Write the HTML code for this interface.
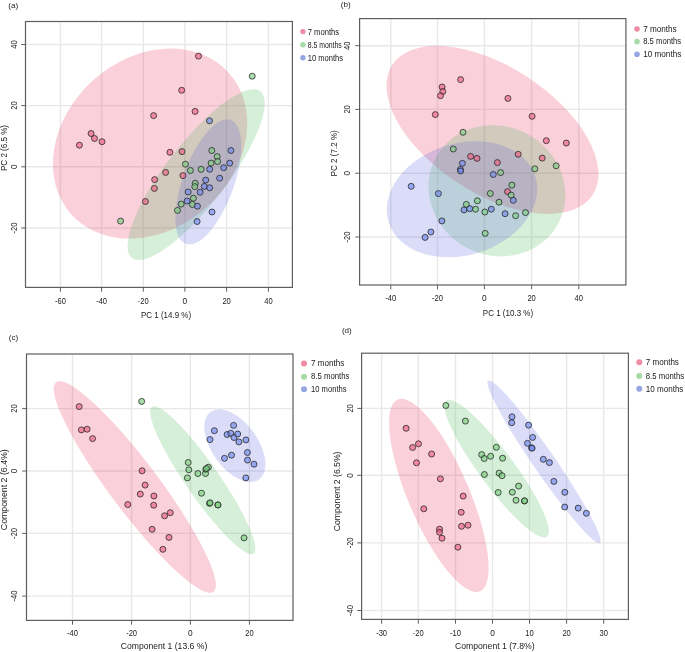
<!DOCTYPE html><html><head><meta charset="utf-8"><style>html,body{margin:0;padding:0;background:#fff;overflow:hidden}svg{display:block;will-change:transform}</style></head><body>
<svg width="685" height="652" viewBox="0 0 685 652" font-family='"Liberation Sans", sans-serif'>
<rect width="685" height="652" fill="#fff"/>
<g id="pa">
<line x1="60.4" y1="21.5" x2="60.4" y2="287.4" stroke="#e8e8e8" stroke-width="1.4"/>
<line x1="101.6" y1="21.5" x2="101.6" y2="287.4" stroke="#e8e8e8" stroke-width="1.4"/>
<line x1="143.3" y1="21.5" x2="143.3" y2="287.4" stroke="#e8e8e8" stroke-width="1.4"/>
<line x1="184.9" y1="21.5" x2="184.9" y2="287.4" stroke="#e8e8e8" stroke-width="1.4"/>
<line x1="226.6" y1="21.5" x2="226.6" y2="287.4" stroke="#e8e8e8" stroke-width="1.4"/>
<line x1="268.4" y1="21.5" x2="268.4" y2="287.4" stroke="#e8e8e8" stroke-width="1.4"/>
<line x1="25.5" y1="44.5" x2="292.4" y2="44.5" stroke="#e8e8e8" stroke-width="1.4"/>
<line x1="25.5" y1="105.6" x2="292.4" y2="105.6" stroke="#e8e8e8" stroke-width="1.4"/>
<line x1="25.5" y1="166.8" x2="292.4" y2="166.8" stroke="#e8e8e8" stroke-width="1.4"/>
<line x1="25.5" y1="228" x2="292.4" y2="228" stroke="#e8e8e8" stroke-width="1.4"/>
<g>
<ellipse cx="150.05" cy="143.58" rx="105.89" ry="85.18" transform="rotate(137.95 150.05 143.58)" fill="rgba(230,40,85,0.22)"/>
<ellipse cx="196.13" cy="174.67" rx="105.16" ry="30.54" transform="rotate(127.61 196.13 174.67)" fill="rgba(70,180,80,0.22)"/>
<ellipse cx="208.32" cy="181.92" rx="65.89" ry="25.69" transform="rotate(109.95 208.32 181.92)" fill="rgba(85,95,220,0.21)"/>
</g>
<circle cx="198.5" cy="56.1" r="3.0" fill="rgba(235,97,130,0.65)" stroke="#222" stroke-opacity="0.85" stroke-width="0.9"/>
<circle cx="181.7" cy="90.3" r="3.0" fill="rgba(235,97,130,0.65)" stroke="#222" stroke-opacity="0.85" stroke-width="0.9"/>
<circle cx="195.1" cy="111.4" r="3.0" fill="rgba(235,97,130,0.65)" stroke="#222" stroke-opacity="0.85" stroke-width="0.9"/>
<circle cx="153.6" cy="115.6" r="3.0" fill="rgba(235,97,130,0.65)" stroke="#222" stroke-opacity="0.85" stroke-width="0.9"/>
<circle cx="91.1" cy="133.5" r="3.0" fill="rgba(235,97,130,0.65)" stroke="#222" stroke-opacity="0.85" stroke-width="0.9"/>
<circle cx="94.5" cy="138.5" r="3.0" fill="rgba(235,97,130,0.65)" stroke="#222" stroke-opacity="0.85" stroke-width="0.9"/>
<circle cx="102" cy="141.7" r="3.0" fill="rgba(235,97,130,0.65)" stroke="#222" stroke-opacity="0.85" stroke-width="0.9"/>
<circle cx="79.4" cy="145.2" r="3.0" fill="rgba(235,97,130,0.65)" stroke="#222" stroke-opacity="0.85" stroke-width="0.9"/>
<circle cx="169.9" cy="152.3" r="3.0" fill="rgba(235,97,130,0.65)" stroke="#222" stroke-opacity="0.85" stroke-width="0.9"/>
<circle cx="182" cy="151.6" r="3.0" fill="rgba(235,97,130,0.65)" stroke="#222" stroke-opacity="0.85" stroke-width="0.9"/>
<circle cx="165.6" cy="172.4" r="3.0" fill="rgba(235,97,130,0.65)" stroke="#222" stroke-opacity="0.85" stroke-width="0.9"/>
<circle cx="182.9" cy="175.6" r="3.0" fill="rgba(235,97,130,0.65)" stroke="#222" stroke-opacity="0.85" stroke-width="0.9"/>
<circle cx="154.7" cy="179.6" r="3.0" fill="rgba(235,97,130,0.65)" stroke="#222" stroke-opacity="0.85" stroke-width="0.9"/>
<circle cx="154.4" cy="188.4" r="3.0" fill="rgba(235,97,130,0.65)" stroke="#222" stroke-opacity="0.85" stroke-width="0.9"/>
<circle cx="145.4" cy="201.5" r="3.0" fill="rgba(235,97,130,0.65)" stroke="#222" stroke-opacity="0.85" stroke-width="0.9"/>
<circle cx="252.2" cy="76.2" r="3.0" fill="rgba(125,205,128,0.65)" stroke="#222" stroke-opacity="0.85" stroke-width="0.9"/>
<circle cx="211.8" cy="150.5" r="3.0" fill="rgba(125,205,128,0.65)" stroke="#222" stroke-opacity="0.85" stroke-width="0.9"/>
<circle cx="217.2" cy="156.6" r="3.0" fill="rgba(125,205,128,0.65)" stroke="#222" stroke-opacity="0.85" stroke-width="0.9"/>
<circle cx="217.6" cy="161.5" r="3.0" fill="rgba(125,205,128,0.65)" stroke="#222" stroke-opacity="0.85" stroke-width="0.9"/>
<circle cx="211.1" cy="163.1" r="3.0" fill="rgba(125,205,128,0.65)" stroke="#222" stroke-opacity="0.85" stroke-width="0.9"/>
<circle cx="185.4" cy="164.2" r="3.0" fill="rgba(125,205,128,0.65)" stroke="#222" stroke-opacity="0.85" stroke-width="0.9"/>
<circle cx="190.4" cy="170.5" r="3.0" fill="rgba(125,205,128,0.65)" stroke="#222" stroke-opacity="0.85" stroke-width="0.9"/>
<circle cx="201.1" cy="169.3" r="3.0" fill="rgba(125,205,128,0.65)" stroke="#222" stroke-opacity="0.85" stroke-width="0.9"/>
<circle cx="195.2" cy="183.3" r="3.0" fill="rgba(125,205,128,0.65)" stroke="#222" stroke-opacity="0.85" stroke-width="0.9"/>
<circle cx="194.8" cy="186.6" r="3.0" fill="rgba(125,205,128,0.65)" stroke="#222" stroke-opacity="0.85" stroke-width="0.9"/>
<circle cx="193.4" cy="198.2" r="3.0" fill="rgba(125,205,128,0.65)" stroke="#222" stroke-opacity="0.85" stroke-width="0.9"/>
<circle cx="181.2" cy="204.1" r="3.0" fill="rgba(125,205,128,0.65)" stroke="#222" stroke-opacity="0.85" stroke-width="0.9"/>
<circle cx="192.4" cy="204.5" r="3.0" fill="rgba(125,205,128,0.65)" stroke="#222" stroke-opacity="0.85" stroke-width="0.9"/>
<circle cx="177.5" cy="210.4" r="3.0" fill="rgba(125,205,128,0.65)" stroke="#222" stroke-opacity="0.85" stroke-width="0.9"/>
<circle cx="120.6" cy="221.1" r="3.0" fill="rgba(125,205,128,0.65)" stroke="#222" stroke-opacity="0.85" stroke-width="0.9"/>
<circle cx="209.5" cy="120.8" r="3.0" fill="rgba(114,138,236,0.65)" stroke="#222" stroke-opacity="0.85" stroke-width="0.9"/>
<circle cx="230.9" cy="150.5" r="3.0" fill="rgba(114,138,236,0.65)" stroke="#222" stroke-opacity="0.85" stroke-width="0.9"/>
<circle cx="229.7" cy="163.1" r="3.0" fill="rgba(114,138,236,0.65)" stroke="#222" stroke-opacity="0.85" stroke-width="0.9"/>
<circle cx="223.7" cy="167.7" r="3.0" fill="rgba(114,138,236,0.65)" stroke="#222" stroke-opacity="0.85" stroke-width="0.9"/>
<circle cx="209.7" cy="169.3" r="3.0" fill="rgba(114,138,236,0.65)" stroke="#222" stroke-opacity="0.85" stroke-width="0.9"/>
<circle cx="219.7" cy="178.2" r="3.0" fill="rgba(114,138,236,0.65)" stroke="#222" stroke-opacity="0.85" stroke-width="0.9"/>
<circle cx="205.7" cy="180.1" r="3.0" fill="rgba(114,138,236,0.65)" stroke="#222" stroke-opacity="0.85" stroke-width="0.9"/>
<circle cx="204.3" cy="186.4" r="3.0" fill="rgba(114,138,236,0.65)" stroke="#222" stroke-opacity="0.85" stroke-width="0.9"/>
<circle cx="209.7" cy="187.8" r="3.0" fill="rgba(114,138,236,0.65)" stroke="#222" stroke-opacity="0.85" stroke-width="0.9"/>
<circle cx="188.2" cy="192" r="3.0" fill="rgba(114,138,236,0.65)" stroke="#222" stroke-opacity="0.85" stroke-width="0.9"/>
<circle cx="200.1" cy="192.2" r="3.0" fill="rgba(114,138,236,0.65)" stroke="#222" stroke-opacity="0.85" stroke-width="0.9"/>
<circle cx="187.1" cy="201" r="3.0" fill="rgba(114,138,236,0.65)" stroke="#222" stroke-opacity="0.85" stroke-width="0.9"/>
<circle cx="197.4" cy="206.2" r="3.0" fill="rgba(114,138,236,0.65)" stroke="#222" stroke-opacity="0.85" stroke-width="0.9"/>
<circle cx="212" cy="212" r="3.0" fill="rgba(114,138,236,0.65)" stroke="#222" stroke-opacity="0.85" stroke-width="0.9"/>
<circle cx="197.1" cy="221.5" r="3.0" fill="rgba(114,138,236,0.65)" stroke="#222" stroke-opacity="0.85" stroke-width="0.9"/>
<rect x="25.5" y="21.5" width="266.9" height="265.9" fill="none" stroke="#5e5e5e" stroke-width="1.2"/>
<line x1="60.4" y1="287.4" x2="60.4" y2="291.7" stroke="#5e5e5e" stroke-width="1"/>
<text x="60.4" y="303.8" font-size="8.6" text-anchor="middle" fill="#1a1a1a" textLength="10.94" lengthAdjust="spacingAndGlyphs">-60</text>
<line x1="101.6" y1="287.4" x2="101.6" y2="291.7" stroke="#5e5e5e" stroke-width="1"/>
<text x="101.6" y="303.8" font-size="8.6" text-anchor="middle" fill="#1a1a1a" textLength="10.94" lengthAdjust="spacingAndGlyphs">-40</text>
<line x1="143.3" y1="287.4" x2="143.3" y2="291.7" stroke="#5e5e5e" stroke-width="1"/>
<text x="143.3" y="303.8" font-size="8.6" text-anchor="middle" fill="#1a1a1a" textLength="10.94" lengthAdjust="spacingAndGlyphs">-20</text>
<line x1="184.9" y1="287.4" x2="184.9" y2="291.7" stroke="#5e5e5e" stroke-width="1"/>
<text x="184.9" y="303.8" font-size="8.6" text-anchor="middle" fill="#1a1a1a" textLength="4.64" lengthAdjust="spacingAndGlyphs">0</text>
<line x1="226.6" y1="287.4" x2="226.6" y2="291.7" stroke="#5e5e5e" stroke-width="1"/>
<text x="226.6" y="303.8" font-size="8.6" text-anchor="middle" fill="#1a1a1a" textLength="8.42" lengthAdjust="spacingAndGlyphs">20</text>
<line x1="268.4" y1="287.4" x2="268.4" y2="291.7" stroke="#5e5e5e" stroke-width="1"/>
<text x="268.4" y="303.8" font-size="8.6" text-anchor="middle" fill="#1a1a1a" textLength="8.42" lengthAdjust="spacingAndGlyphs">40</text>
<line x1="21.2" y1="44.5" x2="25.5" y2="44.5" stroke="#5e5e5e" stroke-width="1"/>
<text x="17.2" y="44.5" font-size="8.6" text-anchor="middle" fill="#1a1a1a" textLength="8.42" lengthAdjust="spacingAndGlyphs" transform="rotate(-90 17.2 44.5)" dy="0">40</text>
<line x1="21.2" y1="105.6" x2="25.5" y2="105.6" stroke="#5e5e5e" stroke-width="1"/>
<text x="17.2" y="105.6" font-size="8.6" text-anchor="middle" fill="#1a1a1a" textLength="8.42" lengthAdjust="spacingAndGlyphs" transform="rotate(-90 17.2 105.6)" dy="0">20</text>
<line x1="21.2" y1="166.8" x2="25.5" y2="166.8" stroke="#5e5e5e" stroke-width="1"/>
<text x="17.2" y="166.8" font-size="8.6" text-anchor="middle" fill="#1a1a1a" textLength="4.64" lengthAdjust="spacingAndGlyphs" transform="rotate(-90 17.2 166.8)" dy="0">0</text>
<line x1="21.2" y1="228" x2="25.5" y2="228" stroke="#5e5e5e" stroke-width="1"/>
<text x="17.2" y="228" font-size="8.6" text-anchor="middle" fill="#1a1a1a" textLength="10.94" lengthAdjust="spacingAndGlyphs" transform="rotate(-90 17.2 228)" dy="0">-20</text>
<text x="166" y="317.5" font-size="9.3" text-anchor="middle" fill="#1a1a1a" textLength="50.1" lengthAdjust="spacingAndGlyphs">PC 1 (14.9 %)</text>
<text x="7" y="148" font-size="9.3" text-anchor="middle" fill="#1a1a1a" textLength="46" lengthAdjust="spacingAndGlyphs" transform="rotate(-90 7 148)">PC 2 (6.5 %)</text>
<text x="8.2" y="8" font-size="8.1" fill="#1a1a1a">(a)</text>
<circle cx="302.9" cy="31.6" r="2.7" fill="#F08CA3"/>
<text x="307.7" y="34.7" font-size="8.8" fill="#1a1a1a" textLength="31.5" lengthAdjust="spacingAndGlyphs">7 months</text>
<circle cx="302.9" cy="44.8" r="2.7" fill="#A6DAA6"/>
<text x="307.7" y="47.6" font-size="8.8" fill="#1a1a1a" textLength="34.1" lengthAdjust="spacingAndGlyphs">8.5 months</text>
<circle cx="302.9" cy="57.7" r="2.7" fill="#97A6E3"/>
<text x="307.7" y="60.6" font-size="8.8" fill="#1a1a1a" textLength="35.3" lengthAdjust="spacingAndGlyphs">10 months</text>
</g>
<g id="pb">
<line x1="390.8" y1="18.6" x2="390.8" y2="285" stroke="#e8e8e8" stroke-width="1.4"/>
<line x1="437.5" y1="18.6" x2="437.5" y2="285" stroke="#e8e8e8" stroke-width="1.4"/>
<line x1="484.4" y1="18.6" x2="484.4" y2="285" stroke="#e8e8e8" stroke-width="1.4"/>
<line x1="531.6" y1="18.6" x2="531.6" y2="285" stroke="#e8e8e8" stroke-width="1.4"/>
<line x1="578.8" y1="18.6" x2="578.8" y2="285" stroke="#e8e8e8" stroke-width="1.4"/>
<line x1="359.6" y1="45.7" x2="625.9" y2="45.7" stroke="#e8e8e8" stroke-width="1.4"/>
<line x1="359.6" y1="109.4" x2="625.9" y2="109.4" stroke="#e8e8e8" stroke-width="1.4"/>
<line x1="359.6" y1="173.2" x2="625.9" y2="173.2" stroke="#e8e8e8" stroke-width="1.4"/>
<line x1="359.6" y1="237" x2="625.9" y2="237" stroke="#e8e8e8" stroke-width="1.4"/>
<g>
<ellipse cx="492.45" cy="129.88" rx="119.48" ry="63.39" transform="rotate(-147.01 492.45 129.88)" fill="rgba(230,40,85,0.22)"/>
<ellipse cx="496.91" cy="190.78" rx="69.57" ry="64.39" transform="rotate(-151.28 496.91 190.78)" fill="rgba(70,180,80,0.22)"/>
<ellipse cx="461.97" cy="199.3" rx="76.8" ry="55.86" transform="rotate(162.72 461.97 199.3)" fill="rgba(85,95,220,0.21)"/>
</g>
<circle cx="460.6" cy="79.6" r="3.0" fill="rgba(235,97,130,0.65)" stroke="#222" stroke-opacity="0.85" stroke-width="0.9"/>
<circle cx="442.1" cy="87" r="3.0" fill="rgba(235,97,130,0.65)" stroke="#222" stroke-opacity="0.85" stroke-width="0.9"/>
<circle cx="442.8" cy="91.5" r="3.0" fill="rgba(235,97,130,0.65)" stroke="#222" stroke-opacity="0.85" stroke-width="0.9"/>
<circle cx="440.5" cy="95.7" r="3.0" fill="rgba(235,97,130,0.65)" stroke="#222" stroke-opacity="0.85" stroke-width="0.9"/>
<circle cx="507.9" cy="98.4" r="3.0" fill="rgba(235,97,130,0.65)" stroke="#222" stroke-opacity="0.85" stroke-width="0.9"/>
<circle cx="435.3" cy="114.6" r="3.0" fill="rgba(235,97,130,0.65)" stroke="#222" stroke-opacity="0.85" stroke-width="0.9"/>
<circle cx="532.1" cy="116.3" r="3.0" fill="rgba(235,97,130,0.65)" stroke="#222" stroke-opacity="0.85" stroke-width="0.9"/>
<circle cx="546.3" cy="140.7" r="3.0" fill="rgba(235,97,130,0.65)" stroke="#222" stroke-opacity="0.85" stroke-width="0.9"/>
<circle cx="566.3" cy="143" r="3.0" fill="rgba(235,97,130,0.65)" stroke="#222" stroke-opacity="0.85" stroke-width="0.9"/>
<circle cx="470.6" cy="156.4" r="3.0" fill="rgba(235,97,130,0.65)" stroke="#222" stroke-opacity="0.85" stroke-width="0.9"/>
<circle cx="477" cy="158.4" r="3.0" fill="rgba(235,97,130,0.65)" stroke="#222" stroke-opacity="0.85" stroke-width="0.9"/>
<circle cx="518.2" cy="154.3" r="3.0" fill="rgba(235,97,130,0.65)" stroke="#222" stroke-opacity="0.85" stroke-width="0.9"/>
<circle cx="542.2" cy="158.1" r="3.0" fill="rgba(235,97,130,0.65)" stroke="#222" stroke-opacity="0.85" stroke-width="0.9"/>
<circle cx="497.4" cy="162.6" r="3.0" fill="rgba(235,97,130,0.65)" stroke="#222" stroke-opacity="0.85" stroke-width="0.9"/>
<circle cx="507.5" cy="191.6" r="3.0" fill="rgba(235,97,130,0.65)" stroke="#222" stroke-opacity="0.85" stroke-width="0.9"/>
<circle cx="463" cy="132.3" r="3.0" fill="rgba(125,205,128,0.65)" stroke="#222" stroke-opacity="0.85" stroke-width="0.9"/>
<circle cx="453.3" cy="149" r="3.0" fill="rgba(125,205,128,0.65)" stroke="#222" stroke-opacity="0.85" stroke-width="0.9"/>
<circle cx="556.2" cy="165.8" r="3.0" fill="rgba(125,205,128,0.65)" stroke="#222" stroke-opacity="0.85" stroke-width="0.9"/>
<circle cx="534.8" cy="168.8" r="3.0" fill="rgba(125,205,128,0.65)" stroke="#222" stroke-opacity="0.85" stroke-width="0.9"/>
<circle cx="500.6" cy="172.6" r="3.0" fill="rgba(125,205,128,0.65)" stroke="#222" stroke-opacity="0.85" stroke-width="0.9"/>
<circle cx="511.9" cy="185.1" r="3.0" fill="rgba(125,205,128,0.65)" stroke="#222" stroke-opacity="0.85" stroke-width="0.9"/>
<circle cx="490.3" cy="193.5" r="3.0" fill="rgba(125,205,128,0.65)" stroke="#222" stroke-opacity="0.85" stroke-width="0.9"/>
<circle cx="511.1" cy="195.1" r="3.0" fill="rgba(125,205,128,0.65)" stroke="#222" stroke-opacity="0.85" stroke-width="0.9"/>
<circle cx="477.4" cy="200.8" r="3.0" fill="rgba(125,205,128,0.65)" stroke="#222" stroke-opacity="0.85" stroke-width="0.9"/>
<circle cx="499" cy="202.2" r="3.0" fill="rgba(125,205,128,0.65)" stroke="#222" stroke-opacity="0.85" stroke-width="0.9"/>
<circle cx="466.3" cy="204.4" r="3.0" fill="rgba(125,205,128,0.65)" stroke="#222" stroke-opacity="0.85" stroke-width="0.9"/>
<circle cx="475.5" cy="209.2" r="3.0" fill="rgba(125,205,128,0.65)" stroke="#222" stroke-opacity="0.85" stroke-width="0.9"/>
<circle cx="484.8" cy="212" r="3.0" fill="rgba(125,205,128,0.65)" stroke="#222" stroke-opacity="0.85" stroke-width="0.9"/>
<circle cx="515.6" cy="215.7" r="3.0" fill="rgba(125,205,128,0.65)" stroke="#222" stroke-opacity="0.85" stroke-width="0.9"/>
<circle cx="525.5" cy="212.6" r="3.0" fill="rgba(125,205,128,0.65)" stroke="#222" stroke-opacity="0.85" stroke-width="0.9"/>
<circle cx="485.2" cy="233.4" r="3.0" fill="rgba(125,205,128,0.65)" stroke="#222" stroke-opacity="0.85" stroke-width="0.9"/>
<circle cx="462.4" cy="163.3" r="3.0" fill="rgba(114,138,236,0.65)" stroke="#222" stroke-opacity="0.85" stroke-width="0.9"/>
<circle cx="460.4" cy="169.4" r="3.0" fill="rgba(114,138,236,0.65)" stroke="#222" stroke-opacity="0.85" stroke-width="0.9"/>
<circle cx="460.6" cy="171" r="3.0" fill="rgba(114,138,236,0.65)" stroke="#222" stroke-opacity="0.85" stroke-width="0.9"/>
<circle cx="493.3" cy="174.5" r="3.0" fill="rgba(114,138,236,0.65)" stroke="#222" stroke-opacity="0.85" stroke-width="0.9"/>
<circle cx="411.2" cy="186.3" r="3.0" fill="rgba(114,138,236,0.65)" stroke="#222" stroke-opacity="0.85" stroke-width="0.9"/>
<circle cx="438.4" cy="193.6" r="3.0" fill="rgba(114,138,236,0.65)" stroke="#222" stroke-opacity="0.85" stroke-width="0.9"/>
<circle cx="513.3" cy="200.3" r="3.0" fill="rgba(114,138,236,0.65)" stroke="#222" stroke-opacity="0.85" stroke-width="0.9"/>
<circle cx="464" cy="209.9" r="3.0" fill="rgba(114,138,236,0.65)" stroke="#222" stroke-opacity="0.85" stroke-width="0.9"/>
<circle cx="469.7" cy="208.7" r="3.0" fill="rgba(114,138,236,0.65)" stroke="#222" stroke-opacity="0.85" stroke-width="0.9"/>
<circle cx="491.3" cy="209.2" r="3.0" fill="rgba(114,138,236,0.65)" stroke="#222" stroke-opacity="0.85" stroke-width="0.9"/>
<circle cx="505.1" cy="213.7" r="3.0" fill="rgba(114,138,236,0.65)" stroke="#222" stroke-opacity="0.85" stroke-width="0.9"/>
<circle cx="441.9" cy="220.9" r="3.0" fill="rgba(114,138,236,0.65)" stroke="#222" stroke-opacity="0.85" stroke-width="0.9"/>
<circle cx="430.9" cy="232" r="3.0" fill="rgba(114,138,236,0.65)" stroke="#222" stroke-opacity="0.85" stroke-width="0.9"/>
<circle cx="425.1" cy="237.4" r="3.0" fill="rgba(114,138,236,0.65)" stroke="#222" stroke-opacity="0.85" stroke-width="0.9"/>
<rect x="359.6" y="18.6" width="266.3" height="266.4" fill="none" stroke="#5e5e5e" stroke-width="1.2"/>
<line x1="390.8" y1="285" x2="390.8" y2="289.3" stroke="#5e5e5e" stroke-width="1"/>
<text x="390.8" y="300.8" font-size="8.6" text-anchor="middle" fill="#1a1a1a" textLength="10.94" lengthAdjust="spacingAndGlyphs">-40</text>
<line x1="437.5" y1="285" x2="437.5" y2="289.3" stroke="#5e5e5e" stroke-width="1"/>
<text x="437.5" y="300.8" font-size="8.6" text-anchor="middle" fill="#1a1a1a" textLength="10.94" lengthAdjust="spacingAndGlyphs">-20</text>
<line x1="484.4" y1="285" x2="484.4" y2="289.3" stroke="#5e5e5e" stroke-width="1"/>
<text x="484.4" y="300.8" font-size="8.6" text-anchor="middle" fill="#1a1a1a" textLength="4.64" lengthAdjust="spacingAndGlyphs">0</text>
<line x1="531.6" y1="285" x2="531.6" y2="289.3" stroke="#5e5e5e" stroke-width="1"/>
<text x="531.6" y="300.8" font-size="8.6" text-anchor="middle" fill="#1a1a1a" textLength="8.42" lengthAdjust="spacingAndGlyphs">20</text>
<line x1="578.8" y1="285" x2="578.8" y2="289.3" stroke="#5e5e5e" stroke-width="1"/>
<text x="578.8" y="300.8" font-size="8.6" text-anchor="middle" fill="#1a1a1a" textLength="8.42" lengthAdjust="spacingAndGlyphs">40</text>
<line x1="355.3" y1="45.7" x2="359.6" y2="45.7" stroke="#5e5e5e" stroke-width="1"/>
<text x="350.2" y="45.7" font-size="8.6" text-anchor="middle" fill="#1a1a1a" textLength="8.42" lengthAdjust="spacingAndGlyphs" transform="rotate(-90 350.2 45.7)" dy="0">40</text>
<line x1="355.3" y1="109.4" x2="359.6" y2="109.4" stroke="#5e5e5e" stroke-width="1"/>
<text x="350.2" y="109.4" font-size="8.6" text-anchor="middle" fill="#1a1a1a" textLength="8.42" lengthAdjust="spacingAndGlyphs" transform="rotate(-90 350.2 109.4)" dy="0">20</text>
<line x1="355.3" y1="173.2" x2="359.6" y2="173.2" stroke="#5e5e5e" stroke-width="1"/>
<text x="350.2" y="173.2" font-size="8.6" text-anchor="middle" fill="#1a1a1a" textLength="4.64" lengthAdjust="spacingAndGlyphs" transform="rotate(-90 350.2 173.2)" dy="0">0</text>
<line x1="355.3" y1="237" x2="359.6" y2="237" stroke="#5e5e5e" stroke-width="1"/>
<text x="350.2" y="237" font-size="8.6" text-anchor="middle" fill="#1a1a1a" textLength="10.94" lengthAdjust="spacingAndGlyphs" transform="rotate(-90 350.2 237)" dy="0">-20</text>
<text x="508" y="316.4" font-size="9.3" text-anchor="middle" fill="#1a1a1a" textLength="50.3" lengthAdjust="spacingAndGlyphs">PC 1 (10.3 %)</text>
<text x="337.3" y="153.3" font-size="9.3" text-anchor="middle" fill="#1a1a1a" textLength="46.2" lengthAdjust="spacingAndGlyphs" transform="rotate(-90 337.3 153.3)">PC 2 (7.2 %)</text>
<text x="340.8" y="7.1" font-size="8.1" fill="#1a1a1a">(b)</text>
<circle cx="637" cy="29" r="2.8" fill="#F08CA3"/>
<text x="643.2" y="32.1" font-size="8.8" fill="#1a1a1a" textLength="33.5" lengthAdjust="spacingAndGlyphs">7 months</text>
<circle cx="637" cy="41.6" r="2.8" fill="#A6DAA6"/>
<text x="643.2" y="44.4" font-size="8.8" fill="#1a1a1a" textLength="38" lengthAdjust="spacingAndGlyphs">8.5 months</text>
<circle cx="637" cy="54.2" r="2.8" fill="#97A6E3"/>
<text x="643.2" y="56.9" font-size="8.8" fill="#1a1a1a" textLength="38.1" lengthAdjust="spacingAndGlyphs">10 months</text>
</g>
<g id="pc">
<line x1="72.5" y1="354" x2="72.5" y2="620.4" stroke="#e8e8e8" stroke-width="1.4"/>
<line x1="131.6" y1="354" x2="131.6" y2="620.4" stroke="#e8e8e8" stroke-width="1.4"/>
<line x1="190.4" y1="354" x2="190.4" y2="620.4" stroke="#e8e8e8" stroke-width="1.4"/>
<line x1="249.4" y1="354" x2="249.4" y2="620.4" stroke="#e8e8e8" stroke-width="1.4"/>
<line x1="26.5" y1="408.6" x2="293" y2="408.6" stroke="#e8e8e8" stroke-width="1.4"/>
<line x1="26.5" y1="471" x2="293" y2="471" stroke="#e8e8e8" stroke-width="1.4"/>
<line x1="26.5" y1="533.4" x2="293" y2="533.4" stroke="#e8e8e8" stroke-width="1.4"/>
<line x1="26.5" y1="596.1" x2="293" y2="596.1" stroke="#e8e8e8" stroke-width="1.4"/>
<g>
<ellipse cx="134.81" cy="486.97" rx="131.02" ry="24.49" transform="rotate(53.09 134.81 486.97)" fill="rgba(230,40,85,0.22)"/>
<ellipse cx="202.74" cy="480.27" rx="89.27" ry="16.66" transform="rotate(55.3 202.74 480.27)" fill="rgba(70,180,80,0.22)"/>
<ellipse cx="234.87" cy="445.67" rx="41.57" ry="22.98" transform="rotate(54.4 234.87 445.67)" fill="rgba(85,95,220,0.21)"/>
</g>
<circle cx="79.2" cy="406.6" r="3.0" fill="rgba(235,97,130,0.65)" stroke="#222" stroke-opacity="0.85" stroke-width="0.9"/>
<circle cx="81.4" cy="429.9" r="3.0" fill="rgba(235,97,130,0.65)" stroke="#222" stroke-opacity="0.85" stroke-width="0.9"/>
<circle cx="87.1" cy="429.2" r="3.0" fill="rgba(235,97,130,0.65)" stroke="#222" stroke-opacity="0.85" stroke-width="0.9"/>
<circle cx="92.6" cy="438.6" r="3.0" fill="rgba(235,97,130,0.65)" stroke="#222" stroke-opacity="0.85" stroke-width="0.9"/>
<circle cx="142.1" cy="470.8" r="3.0" fill="rgba(235,97,130,0.65)" stroke="#222" stroke-opacity="0.85" stroke-width="0.9"/>
<circle cx="145.1" cy="485.1" r="3.0" fill="rgba(235,97,130,0.65)" stroke="#222" stroke-opacity="0.85" stroke-width="0.9"/>
<circle cx="140.3" cy="494.1" r="3.0" fill="rgba(235,97,130,0.65)" stroke="#222" stroke-opacity="0.85" stroke-width="0.9"/>
<circle cx="153.9" cy="496" r="3.0" fill="rgba(235,97,130,0.65)" stroke="#222" stroke-opacity="0.85" stroke-width="0.9"/>
<circle cx="127.8" cy="504.6" r="3.0" fill="rgba(235,97,130,0.65)" stroke="#222" stroke-opacity="0.85" stroke-width="0.9"/>
<circle cx="153.7" cy="505.2" r="3.0" fill="rgba(235,97,130,0.65)" stroke="#222" stroke-opacity="0.85" stroke-width="0.9"/>
<circle cx="170.3" cy="512.7" r="3.0" fill="rgba(235,97,130,0.65)" stroke="#222" stroke-opacity="0.85" stroke-width="0.9"/>
<circle cx="164.6" cy="515.8" r="3.0" fill="rgba(235,97,130,0.65)" stroke="#222" stroke-opacity="0.85" stroke-width="0.9"/>
<circle cx="152.1" cy="529.3" r="3.0" fill="rgba(235,97,130,0.65)" stroke="#222" stroke-opacity="0.85" stroke-width="0.9"/>
<circle cx="169" cy="537.4" r="3.0" fill="rgba(235,97,130,0.65)" stroke="#222" stroke-opacity="0.85" stroke-width="0.9"/>
<circle cx="162.9" cy="549.3" r="3.0" fill="rgba(235,97,130,0.65)" stroke="#222" stroke-opacity="0.85" stroke-width="0.9"/>
<circle cx="141.7" cy="401.4" r="3.0" fill="rgba(125,205,128,0.65)" stroke="#222" stroke-opacity="0.85" stroke-width="0.9"/>
<circle cx="188.2" cy="462.5" r="3.0" fill="rgba(125,205,128,0.65)" stroke="#222" stroke-opacity="0.85" stroke-width="0.9"/>
<circle cx="188.8" cy="469.8" r="3.0" fill="rgba(125,205,128,0.65)" stroke="#222" stroke-opacity="0.85" stroke-width="0.9"/>
<circle cx="187.4" cy="477.9" r="3.0" fill="rgba(125,205,128,0.65)" stroke="#222" stroke-opacity="0.85" stroke-width="0.9"/>
<circle cx="197.9" cy="473.5" r="3.0" fill="rgba(125,205,128,0.65)" stroke="#222" stroke-opacity="0.85" stroke-width="0.9"/>
<circle cx="205.5" cy="473.5" r="3.0" fill="rgba(125,205,128,0.65)" stroke="#222" stroke-opacity="0.85" stroke-width="0.9"/>
<circle cx="205.8" cy="469.2" r="3.0" fill="rgba(125,205,128,0.65)" stroke="#222" stroke-opacity="0.85" stroke-width="0.9"/>
<circle cx="208.4" cy="467.2" r="3.0" fill="rgba(125,205,128,0.65)" stroke="#222" stroke-opacity="0.85" stroke-width="0.9"/>
<circle cx="201.5" cy="493.2" r="3.0" fill="rgba(125,205,128,0.65)" stroke="#222" stroke-opacity="0.85" stroke-width="0.9"/>
<circle cx="209.5" cy="503.4" r="3.0" fill="rgba(125,205,128,0.65)" stroke="#222" stroke-opacity="0.85" stroke-width="0.9"/>
<circle cx="210.1" cy="502.8" r="3.0" fill="rgba(125,205,128,0.65)" stroke="#222" stroke-opacity="0.85" stroke-width="0.9"/>
<circle cx="217.8" cy="504.9" r="3.0" fill="rgba(125,205,128,0.65)" stroke="#222" stroke-opacity="0.85" stroke-width="0.9"/>
<circle cx="218" cy="505" r="3.0" fill="rgba(125,205,128,0.65)" stroke="#222" stroke-opacity="0.85" stroke-width="0.9"/>
<circle cx="206.5" cy="468.5" r="3.0" fill="rgba(125,205,128,0.65)" stroke="#222" stroke-opacity="0.85" stroke-width="0.9"/>
<circle cx="244.1" cy="537.9" r="3.0" fill="rgba(125,205,128,0.65)" stroke="#222" stroke-opacity="0.85" stroke-width="0.9"/>
<circle cx="233.6" cy="425.4" r="3.0" fill="rgba(114,138,236,0.65)" stroke="#222" stroke-opacity="0.85" stroke-width="0.9"/>
<circle cx="214.4" cy="430.7" r="3.0" fill="rgba(114,138,236,0.65)" stroke="#222" stroke-opacity="0.85" stroke-width="0.9"/>
<circle cx="210" cy="439.6" r="3.0" fill="rgba(114,138,236,0.65)" stroke="#222" stroke-opacity="0.85" stroke-width="0.9"/>
<circle cx="227.1" cy="434.5" r="3.0" fill="rgba(114,138,236,0.65)" stroke="#222" stroke-opacity="0.85" stroke-width="0.9"/>
<circle cx="230.8" cy="433.3" r="3.0" fill="rgba(114,138,236,0.65)" stroke="#222" stroke-opacity="0.85" stroke-width="0.9"/>
<circle cx="234" cy="437.5" r="3.0" fill="rgba(114,138,236,0.65)" stroke="#222" stroke-opacity="0.85" stroke-width="0.9"/>
<circle cx="237.7" cy="434" r="3.0" fill="rgba(114,138,236,0.65)" stroke="#222" stroke-opacity="0.85" stroke-width="0.9"/>
<circle cx="238.9" cy="441.9" r="3.0" fill="rgba(114,138,236,0.65)" stroke="#222" stroke-opacity="0.85" stroke-width="0.9"/>
<circle cx="245.9" cy="439.9" r="3.0" fill="rgba(114,138,236,0.65)" stroke="#222" stroke-opacity="0.85" stroke-width="0.9"/>
<circle cx="247.4" cy="452.5" r="3.0" fill="rgba(114,138,236,0.65)" stroke="#222" stroke-opacity="0.85" stroke-width="0.9"/>
<circle cx="231.5" cy="455.2" r="3.0" fill="rgba(114,138,236,0.65)" stroke="#222" stroke-opacity="0.85" stroke-width="0.9"/>
<circle cx="224.5" cy="458.3" r="3.0" fill="rgba(114,138,236,0.65)" stroke="#222" stroke-opacity="0.85" stroke-width="0.9"/>
<circle cx="247.5" cy="460.1" r="3.0" fill="rgba(114,138,236,0.65)" stroke="#222" stroke-opacity="0.85" stroke-width="0.9"/>
<circle cx="254" cy="464.2" r="3.0" fill="rgba(114,138,236,0.65)" stroke="#222" stroke-opacity="0.85" stroke-width="0.9"/>
<circle cx="245.8" cy="477.9" r="3.0" fill="rgba(114,138,236,0.65)" stroke="#222" stroke-opacity="0.85" stroke-width="0.9"/>
<rect x="26.5" y="354" width="266.5" height="266.4" fill="none" stroke="#5e5e5e" stroke-width="1.2"/>
<line x1="72.5" y1="620.4" x2="72.5" y2="624.7" stroke="#5e5e5e" stroke-width="1"/>
<text x="72.5" y="636.4" font-size="8.6" text-anchor="middle" fill="#1a1a1a" textLength="10.94" lengthAdjust="spacingAndGlyphs">-40</text>
<line x1="131.6" y1="620.4" x2="131.6" y2="624.7" stroke="#5e5e5e" stroke-width="1"/>
<text x="131.6" y="636.4" font-size="8.6" text-anchor="middle" fill="#1a1a1a" textLength="10.94" lengthAdjust="spacingAndGlyphs">-20</text>
<line x1="190.4" y1="620.4" x2="190.4" y2="624.7" stroke="#5e5e5e" stroke-width="1"/>
<text x="190.4" y="636.4" font-size="8.6" text-anchor="middle" fill="#1a1a1a" textLength="4.64" lengthAdjust="spacingAndGlyphs">0</text>
<line x1="249.4" y1="620.4" x2="249.4" y2="624.7" stroke="#5e5e5e" stroke-width="1"/>
<text x="249.4" y="636.4" font-size="8.6" text-anchor="middle" fill="#1a1a1a" textLength="8.42" lengthAdjust="spacingAndGlyphs">20</text>
<line x1="22.2" y1="408.6" x2="26.5" y2="408.6" stroke="#5e5e5e" stroke-width="1"/>
<text x="16.9" y="408.6" font-size="8.6" text-anchor="middle" fill="#1a1a1a" textLength="8.42" lengthAdjust="spacingAndGlyphs" transform="rotate(-90 16.9 408.6)" dy="0">20</text>
<line x1="22.2" y1="471" x2="26.5" y2="471" stroke="#5e5e5e" stroke-width="1"/>
<text x="16.9" y="471" font-size="8.6" text-anchor="middle" fill="#1a1a1a" textLength="4.64" lengthAdjust="spacingAndGlyphs" transform="rotate(-90 16.9 471)" dy="0">0</text>
<line x1="22.2" y1="533.4" x2="26.5" y2="533.4" stroke="#5e5e5e" stroke-width="1"/>
<text x="16.9" y="533.4" font-size="8.6" text-anchor="middle" fill="#1a1a1a" textLength="10.94" lengthAdjust="spacingAndGlyphs" transform="rotate(-90 16.9 533.4)" dy="0">-20</text>
<line x1="22.2" y1="596.1" x2="26.5" y2="596.1" stroke="#5e5e5e" stroke-width="1"/>
<text x="16.9" y="596.1" font-size="8.6" text-anchor="middle" fill="#1a1a1a" textLength="10.94" lengthAdjust="spacingAndGlyphs" transform="rotate(-90 16.9 596.1)" dy="0">-40</text>
<text x="164" y="649.2" font-size="9.3" text-anchor="middle" fill="#1a1a1a" textLength="86.5" lengthAdjust="spacingAndGlyphs">Component 1 (13.6 %)</text>
<text x="7" y="489.7" font-size="9.3" text-anchor="middle" fill="#1a1a1a" textLength="81" lengthAdjust="spacingAndGlyphs" transform="rotate(-90 7 489.7)">Component 2 (6.4%)</text>
<text x="8.8" y="340.1" font-size="8.1" fill="#1a1a1a">(c)</text>
<circle cx="304" cy="363.5" r="3" fill="#F08CA3"/>
<text x="311" y="366.3" font-size="8.8" fill="#1a1a1a" textLength="33.3" lengthAdjust="spacingAndGlyphs">7 months</text>
<circle cx="304" cy="376.7" r="3" fill="#A6DAA6"/>
<text x="311" y="379.1" font-size="8.8" fill="#1a1a1a" textLength="38.5" lengthAdjust="spacingAndGlyphs">8.5 months</text>
<circle cx="304" cy="389.2" r="3" fill="#97A6E3"/>
<text x="311" y="391.9" font-size="8.8" fill="#1a1a1a" textLength="35.6" lengthAdjust="spacingAndGlyphs">10 months</text>
</g>
<g id="pd">
<line x1="381.6" y1="353.2" x2="381.6" y2="619.4" stroke="#e8e8e8" stroke-width="1.4"/>
<line x1="418.3" y1="353.2" x2="418.3" y2="619.4" stroke="#e8e8e8" stroke-width="1.4"/>
<line x1="455.5" y1="353.2" x2="455.5" y2="619.4" stroke="#e8e8e8" stroke-width="1.4"/>
<line x1="492.5" y1="353.2" x2="492.5" y2="619.4" stroke="#e8e8e8" stroke-width="1.4"/>
<line x1="529.5" y1="353.2" x2="529.5" y2="619.4" stroke="#e8e8e8" stroke-width="1.4"/>
<line x1="566.6" y1="353.2" x2="566.6" y2="619.4" stroke="#e8e8e8" stroke-width="1.4"/>
<line x1="603.7" y1="353.2" x2="603.7" y2="619.4" stroke="#e8e8e8" stroke-width="1.4"/>
<line x1="361.6" y1="408.4" x2="628.4" y2="408.4" stroke="#e8e8e8" stroke-width="1.4"/>
<line x1="361.6" y1="475.3" x2="628.4" y2="475.3" stroke="#e8e8e8" stroke-width="1.4"/>
<line x1="361.6" y1="542.9" x2="628.4" y2="542.9" stroke="#e8e8e8" stroke-width="1.4"/>
<line x1="361.6" y1="610.5" x2="628.4" y2="610.5" stroke="#e8e8e8" stroke-width="1.4"/>
<g>
<ellipse cx="438.82" cy="495.39" rx="104.38" ry="30.45" transform="rotate(66.79 438.82 495.39)" fill="rgba(230,40,85,0.22)"/>
<ellipse cx="496.62" cy="468.62" rx="84.73" ry="17.44" transform="rotate(53.53 496.62 468.62)" fill="rgba(70,180,80,0.22)"/>
<ellipse cx="544.06" cy="461.81" rx="98.56" ry="10.96" transform="rotate(55.44 544.06 461.81)" fill="rgba(85,95,220,0.21)"/>
</g>
<circle cx="406.1" cy="428.3" r="3.0" fill="rgba(235,97,130,0.65)" stroke="#222" stroke-opacity="0.85" stroke-width="0.9"/>
<circle cx="418.5" cy="443.8" r="3.0" fill="rgba(235,97,130,0.65)" stroke="#222" stroke-opacity="0.85" stroke-width="0.9"/>
<circle cx="412.6" cy="447.5" r="3.0" fill="rgba(235,97,130,0.65)" stroke="#222" stroke-opacity="0.85" stroke-width="0.9"/>
<circle cx="431.6" cy="454" r="3.0" fill="rgba(235,97,130,0.65)" stroke="#222" stroke-opacity="0.85" stroke-width="0.9"/>
<circle cx="416.5" cy="462.8" r="3.0" fill="rgba(235,97,130,0.65)" stroke="#222" stroke-opacity="0.85" stroke-width="0.9"/>
<circle cx="440.4" cy="478.8" r="3.0" fill="rgba(235,97,130,0.65)" stroke="#222" stroke-opacity="0.85" stroke-width="0.9"/>
<circle cx="463.2" cy="496.1" r="3.0" fill="rgba(235,97,130,0.65)" stroke="#222" stroke-opacity="0.85" stroke-width="0.9"/>
<circle cx="423.8" cy="508.8" r="3.0" fill="rgba(235,97,130,0.65)" stroke="#222" stroke-opacity="0.85" stroke-width="0.9"/>
<circle cx="461.2" cy="512.3" r="3.0" fill="rgba(235,97,130,0.65)" stroke="#222" stroke-opacity="0.85" stroke-width="0.9"/>
<circle cx="461.5" cy="526.3" r="3.0" fill="rgba(235,97,130,0.65)" stroke="#222" stroke-opacity="0.85" stroke-width="0.9"/>
<circle cx="468" cy="525.2" r="3.0" fill="rgba(235,97,130,0.65)" stroke="#222" stroke-opacity="0.85" stroke-width="0.9"/>
<circle cx="439.5" cy="529.2" r="3.0" fill="rgba(235,97,130,0.65)" stroke="#222" stroke-opacity="0.85" stroke-width="0.9"/>
<circle cx="439.5" cy="532.3" r="3.0" fill="rgba(235,97,130,0.65)" stroke="#222" stroke-opacity="0.85" stroke-width="0.9"/>
<circle cx="442" cy="538.2" r="3.0" fill="rgba(235,97,130,0.65)" stroke="#222" stroke-opacity="0.85" stroke-width="0.9"/>
<circle cx="457.9" cy="547.2" r="3.0" fill="rgba(235,97,130,0.65)" stroke="#222" stroke-opacity="0.85" stroke-width="0.9"/>
<circle cx="445.8" cy="405.5" r="3.0" fill="rgba(125,205,128,0.65)" stroke="#222" stroke-opacity="0.85" stroke-width="0.9"/>
<circle cx="465.4" cy="421.1" r="3.0" fill="rgba(125,205,128,0.65)" stroke="#222" stroke-opacity="0.85" stroke-width="0.9"/>
<circle cx="496.3" cy="447.3" r="3.0" fill="rgba(125,205,128,0.65)" stroke="#222" stroke-opacity="0.85" stroke-width="0.9"/>
<circle cx="481.7" cy="454.6" r="3.0" fill="rgba(125,205,128,0.65)" stroke="#222" stroke-opacity="0.85" stroke-width="0.9"/>
<circle cx="484.2" cy="458.5" r="3.0" fill="rgba(125,205,128,0.65)" stroke="#222" stroke-opacity="0.85" stroke-width="0.9"/>
<circle cx="490.6" cy="456.3" r="3.0" fill="rgba(125,205,128,0.65)" stroke="#222" stroke-opacity="0.85" stroke-width="0.9"/>
<circle cx="502.6" cy="458.2" r="3.0" fill="rgba(125,205,128,0.65)" stroke="#222" stroke-opacity="0.85" stroke-width="0.9"/>
<circle cx="484.4" cy="474.5" r="3.0" fill="rgba(125,205,128,0.65)" stroke="#222" stroke-opacity="0.85" stroke-width="0.9"/>
<circle cx="499.1" cy="473.1" r="3.0" fill="rgba(125,205,128,0.65)" stroke="#222" stroke-opacity="0.85" stroke-width="0.9"/>
<circle cx="502" cy="475.7" r="3.0" fill="rgba(125,205,128,0.65)" stroke="#222" stroke-opacity="0.85" stroke-width="0.9"/>
<circle cx="518.6" cy="486.1" r="3.0" fill="rgba(125,205,128,0.65)" stroke="#222" stroke-opacity="0.85" stroke-width="0.9"/>
<circle cx="498.2" cy="492.5" r="3.0" fill="rgba(125,205,128,0.65)" stroke="#222" stroke-opacity="0.85" stroke-width="0.9"/>
<circle cx="512.3" cy="492.2" r="3.0" fill="rgba(125,205,128,0.65)" stroke="#222" stroke-opacity="0.85" stroke-width="0.9"/>
<circle cx="516" cy="500.3" r="3.0" fill="rgba(125,205,128,0.65)" stroke="#222" stroke-opacity="0.85" stroke-width="0.9"/>
<circle cx="524.4" cy="501" r="3.0" fill="rgba(125,205,128,0.65)" stroke="#222" stroke-opacity="0.85" stroke-width="0.9"/>
<circle cx="524.6" cy="500.8" r="3.0" fill="rgba(125,205,128,0.65)" stroke="#222" stroke-opacity="0.85" stroke-width="0.9"/>
<circle cx="512" cy="416.8" r="3.0" fill="rgba(114,138,236,0.65)" stroke="#222" stroke-opacity="0.85" stroke-width="0.9"/>
<circle cx="511.7" cy="422.7" r="3.0" fill="rgba(114,138,236,0.65)" stroke="#222" stroke-opacity="0.85" stroke-width="0.9"/>
<circle cx="528.6" cy="425.1" r="3.0" fill="rgba(114,138,236,0.65)" stroke="#222" stroke-opacity="0.85" stroke-width="0.9"/>
<circle cx="532.6" cy="437.4" r="3.0" fill="rgba(114,138,236,0.65)" stroke="#222" stroke-opacity="0.85" stroke-width="0.9"/>
<circle cx="527.5" cy="443.3" r="3.0" fill="rgba(114,138,236,0.65)" stroke="#222" stroke-opacity="0.85" stroke-width="0.9"/>
<circle cx="531.6" cy="447.8" r="3.0" fill="rgba(114,138,236,0.65)" stroke="#222" stroke-opacity="0.85" stroke-width="0.9"/>
<circle cx="532.1" cy="448.2" r="3.0" fill="rgba(114,138,236,0.65)" stroke="#222" stroke-opacity="0.85" stroke-width="0.9"/>
<circle cx="543.3" cy="459.3" r="3.0" fill="rgba(114,138,236,0.65)" stroke="#222" stroke-opacity="0.85" stroke-width="0.9"/>
<circle cx="549.4" cy="462.6" r="3.0" fill="rgba(114,138,236,0.65)" stroke="#222" stroke-opacity="0.85" stroke-width="0.9"/>
<circle cx="553.9" cy="481.4" r="3.0" fill="rgba(114,138,236,0.65)" stroke="#222" stroke-opacity="0.85" stroke-width="0.9"/>
<circle cx="564.8" cy="492.3" r="3.0" fill="rgba(114,138,236,0.65)" stroke="#222" stroke-opacity="0.85" stroke-width="0.9"/>
<circle cx="564.7" cy="507" r="3.0" fill="rgba(114,138,236,0.65)" stroke="#222" stroke-opacity="0.85" stroke-width="0.9"/>
<circle cx="578.2" cy="508.1" r="3.0" fill="rgba(114,138,236,0.65)" stroke="#222" stroke-opacity="0.85" stroke-width="0.9"/>
<circle cx="586.4" cy="513.3" r="3.0" fill="rgba(114,138,236,0.65)" stroke="#222" stroke-opacity="0.85" stroke-width="0.9"/>
<rect x="361.6" y="353.2" width="266.8" height="266.2" fill="none" stroke="#5e5e5e" stroke-width="1.2"/>
<line x1="381.6" y1="619.4" x2="381.6" y2="623.7" stroke="#5e5e5e" stroke-width="1"/>
<text x="381.6" y="635.5" font-size="8.6" text-anchor="middle" fill="#1a1a1a" textLength="10.94" lengthAdjust="spacingAndGlyphs">-30</text>
<line x1="418.3" y1="619.4" x2="418.3" y2="623.7" stroke="#5e5e5e" stroke-width="1"/>
<text x="418.3" y="635.5" font-size="8.6" text-anchor="middle" fill="#1a1a1a" textLength="10.94" lengthAdjust="spacingAndGlyphs">-20</text>
<line x1="455.5" y1="619.4" x2="455.5" y2="623.7" stroke="#5e5e5e" stroke-width="1"/>
<text x="455.5" y="635.5" font-size="8.6" text-anchor="middle" fill="#1a1a1a" textLength="10.94" lengthAdjust="spacingAndGlyphs">-10</text>
<line x1="492.5" y1="619.4" x2="492.5" y2="623.7" stroke="#5e5e5e" stroke-width="1"/>
<text x="492.5" y="635.5" font-size="8.6" text-anchor="middle" fill="#1a1a1a" textLength="4.64" lengthAdjust="spacingAndGlyphs">0</text>
<line x1="529.5" y1="619.4" x2="529.5" y2="623.7" stroke="#5e5e5e" stroke-width="1"/>
<text x="529.5" y="635.5" font-size="8.6" text-anchor="middle" fill="#1a1a1a" textLength="8.42" lengthAdjust="spacingAndGlyphs">10</text>
<line x1="566.6" y1="619.4" x2="566.6" y2="623.7" stroke="#5e5e5e" stroke-width="1"/>
<text x="566.6" y="635.5" font-size="8.6" text-anchor="middle" fill="#1a1a1a" textLength="8.42" lengthAdjust="spacingAndGlyphs">20</text>
<line x1="603.7" y1="619.4" x2="603.7" y2="623.7" stroke="#5e5e5e" stroke-width="1"/>
<text x="603.7" y="635.5" font-size="8.6" text-anchor="middle" fill="#1a1a1a" textLength="8.42" lengthAdjust="spacingAndGlyphs">30</text>
<line x1="357.3" y1="408.4" x2="361.6" y2="408.4" stroke="#5e5e5e" stroke-width="1"/>
<text x="352.8" y="408.4" font-size="8.6" text-anchor="middle" fill="#1a1a1a" textLength="8.42" lengthAdjust="spacingAndGlyphs" transform="rotate(-90 352.8 408.4)" dy="0">20</text>
<line x1="357.3" y1="475.3" x2="361.6" y2="475.3" stroke="#5e5e5e" stroke-width="1"/>
<text x="352.8" y="475.3" font-size="8.6" text-anchor="middle" fill="#1a1a1a" textLength="4.64" lengthAdjust="spacingAndGlyphs" transform="rotate(-90 352.8 475.3)" dy="0">0</text>
<line x1="357.3" y1="542.9" x2="361.6" y2="542.9" stroke="#5e5e5e" stroke-width="1"/>
<text x="352.8" y="542.9" font-size="8.6" text-anchor="middle" fill="#1a1a1a" textLength="10.94" lengthAdjust="spacingAndGlyphs" transform="rotate(-90 352.8 542.9)" dy="0">-20</text>
<line x1="357.3" y1="610.5" x2="361.6" y2="610.5" stroke="#5e5e5e" stroke-width="1"/>
<text x="352.8" y="610.5" font-size="8.6" text-anchor="middle" fill="#1a1a1a" textLength="10.94" lengthAdjust="spacingAndGlyphs" transform="rotate(-90 352.8 610.5)" dy="0">-40</text>
<text x="494.8" y="648.6" font-size="9.3" text-anchor="middle" fill="#1a1a1a" textLength="79.7" lengthAdjust="spacingAndGlyphs">Component 1 (7.8%)</text>
<text x="340.4" y="491.4" font-size="9.3" text-anchor="middle" fill="#1a1a1a" textLength="79.8" lengthAdjust="spacingAndGlyphs" transform="rotate(-90 340.4 491.4)">Component 2 (6.5%)</text>
<text x="341.9" y="332.5" font-size="8.1" fill="#1a1a1a">(d)</text>
<circle cx="639.3" cy="362.2" r="3" fill="#F08CA3"/>
<text x="645.8" y="364.9" font-size="8.8" fill="#1a1a1a" textLength="33.1" lengthAdjust="spacingAndGlyphs">7 months</text>
<circle cx="639.3" cy="376" r="3" fill="#A6DAA6"/>
<text x="645.8" y="378.5" font-size="8.8" fill="#1a1a1a" textLength="38.3" lengthAdjust="spacingAndGlyphs">8.5 months</text>
<circle cx="639.3" cy="388.7" r="3" fill="#97A6E3"/>
<text x="645.8" y="391.6" font-size="8.8" fill="#1a1a1a" textLength="37.6" lengthAdjust="spacingAndGlyphs">10 months</text>
</g>
</svg></body></html>
